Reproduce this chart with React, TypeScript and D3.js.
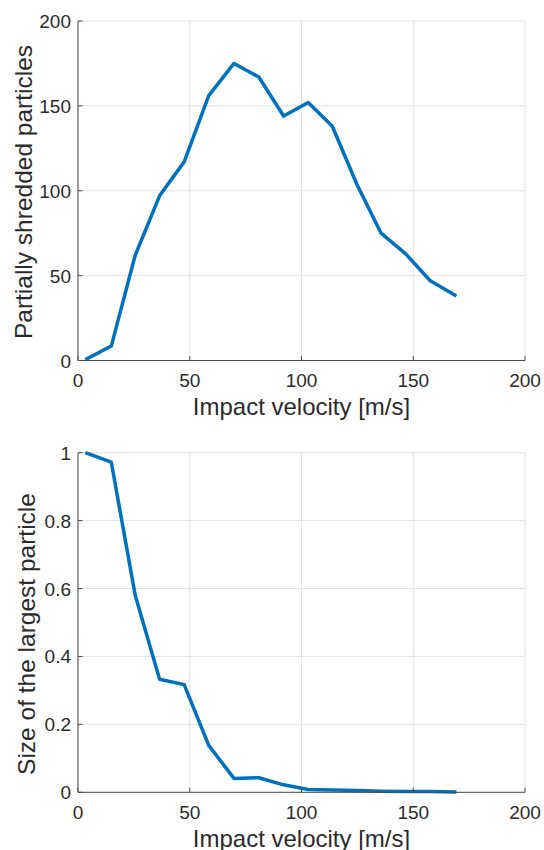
import React from "react";
import * as d3 from "d3";

const velocity = [3.3, 14.9, 25.6, 36.5, 47.5, 58.5, 69.8, 80.9, 92.0, 103.0, 113.8, 124.7, 135.6, 146.5, 157.6, 169.3];
const shredded = [0.5, 8.5, 62, 97, 117, 156, 175, 167, 144, 152, 138, 104, 75, 63, 47, 38];
const largest = [1.0, 0.972, 0.58, 0.333, 0.317, 0.138, 0.041, 0.043, 0.022, 0.008, 0.007, 0.005, 0.003, 0.002, 0.002, 0.001];

const xTicks = [0, 50, 100, 150, 200];
const yTicksTop = [0, 50, 100, 150, 200];
const yTicksBottom = [0, 0.2, 0.4, 0.6, 0.8, 1];

const xLabel = "Impact velocity [m/s]";
const yLabelTop = "Partially shredded particles";
const yLabelBottom = "Size of the largest particle";

const FONT = "'Liberation Sans', Arial, Helvetica, sans-serif";
const TEXT = "#2b2b2b";
const AXIS = "#4a4a4a";
const GRID = "#e3e3e3";
const LINE = "#0072BD";

type PanelProps = {
  top: number;
  bottom: number;
  ys: number[];
  yDomain: [number, number];
  yTicks: number[];
  yFmt: (v: number) => string;
  yLabel: string;
  yLabelX: number;
  yLabelCY: number;
};

function Panel({ top, bottom, ys, yDomain, yTicks, yFmt, yLabel, yLabelX, yLabelCY }: PanelProps) {
  const left = 78;
  const right = 525;
  const x = d3.scaleLinear().domain([0, 200]).range([left, right]);
  const y = d3.scaleLinear().domain(yDomain).range([bottom, top]);
  const line = d3
    .line<number>()
    .x((_, i) => x(velocity[i]))
    .y((d) => y(d));
  const tickLen = 4.5;
  return (
    <g>
      {xTicks.map((t) => (
        <line key={"gx" + t} x1={x(t)} x2={x(t)} y1={top} y2={bottom} stroke={GRID} strokeWidth={1} />
      ))}
      {yTicks.map((t) => (
        <line key={"gy" + t} x1={left} x2={right} y1={y(t)} y2={y(t)} stroke={GRID} strokeWidth={1} />
      ))}
      <path d={line(ys) || ""} fill="none" stroke={LINE} strokeWidth={3.5} strokeLinejoin="round" />
      <line x1={left} x2={right} y1={bottom} y2={bottom} stroke={AXIS} strokeWidth={1} />
      <line x1={left} x2={left} y1={top} y2={bottom} stroke={AXIS} strokeWidth={1} />
      {xTicks.map((t) => (
        <g key={"tx" + t}>
          <line x1={x(t)} x2={x(t)} y1={bottom} y2={bottom - tickLen} stroke={AXIS} strokeWidth={1} />
          <text x={x(t)} y={bottom + 26.5} textAnchor="middle" fontSize={19} fill={TEXT} fontFamily={FONT}>
            {t}
          </text>
        </g>
      ))}
      {yTicks.map((t) => (
        <g key={"ty" + t}>
          <line x1={left} x2={left + tickLen} y1={y(t)} y2={y(t)} stroke={AXIS} strokeWidth={1} />
          <text x={71} y={y(t) + 7} textAnchor="end" fontSize={19} fill={TEXT} fontFamily={FONT}>
            {yFmt(t)}
          </text>
        </g>
      ))}
      <text x={(left + right) / 2} y={bottom + 54.5} textAnchor="middle" fontSize={24} fill={TEXT} fontFamily={FONT}>
        {xLabel}
      </text>
      <text
        transform={`translate(${yLabelX},${yLabelCY}) rotate(-90)`}
        textAnchor="middle"
        fontSize={24.5}
        fill={TEXT}
        fontFamily={FONT}
      >
        {yLabel}
      </text>
    </g>
  );
}

export default function App() {
  return (
    <svg
      width={544}
      height={850}
      style={{ position: "absolute", left: 0, top: 0, background: "#fff" }}
    >
      <rect x={0} y={0} width={544} height={850} fill="#fff" />
      <Panel
        top={21}
        bottom={360.5}
        ys={shredded}
        yDomain={[0, 200]}
        yTicks={yTicksTop}
        yFmt={(v) => String(v)}
        yLabel={yLabelTop}
        yLabelX={31.5}
        yLabelCY={192}
      />
      <Panel
        top={452.7}
        bottom={792.3}
        ys={largest}
        yDomain={[0, 1]}
        yTicks={yTicksBottom}
        yFmt={(v) => String(v)}
        yLabel={yLabelBottom}
        yLabelX={35}
        yLabelCY={634}
      />
    </svg>
  );
}
